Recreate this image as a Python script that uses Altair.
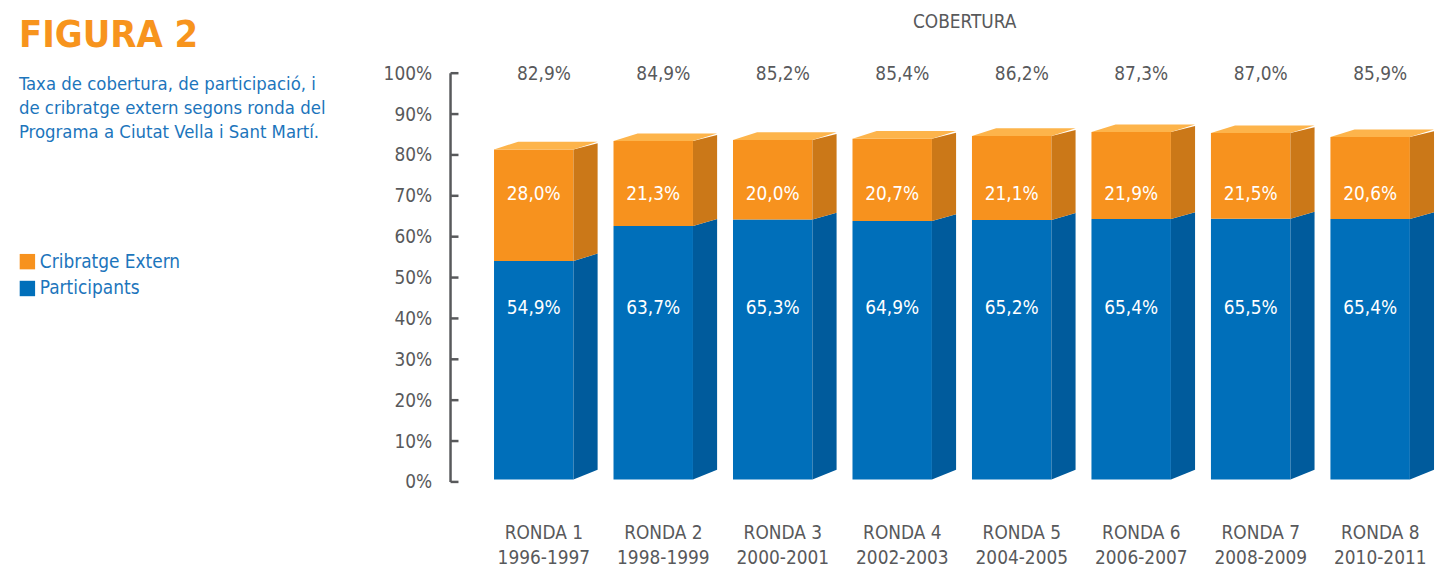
import altair as alt
import pandas as pd

# ---------------- data ----------------
rondes = ["RONDA 1", "RONDA 2", "RONDA 3", "RONDA 4", "RONDA 5", "RONDA 6", "RONDA 7", "RONDA 8"]
periodes = ["1996-1997", "1998-1999", "2000-2001", "2002-2003", "2004-2005", "2006-2007", "2008-2009", "2010-2011"]
participants = [54.9, 63.7, 65.3, 64.9, 65.2, 65.4, 65.5, 65.4]
cribratge = [28.0, 21.3, 20.0, 20.7, 21.1, 21.9, 21.5, 20.6]
cobertura = [82.9, 84.9, 85.2, 85.4, 86.2, 87.3, 87.0, 85.9]
y_ticks = [0, 10, 20, 30, 40, 50, 60, 70, 80, 90, 100]
series = ["Cribratge Extern", "Participants"]

# ---------------- style ----------------
FONT = "Liberation Sans Narrow, DejaVu Sans Condensed, Roboto, sans-serif"
GRAY = "#58595B"
BLUE_TXT = "#1C75BC"
ORANGE = "#F7921E"
BLUE = "#006FBA"
SIDE = {"Cribratge Extern": "#CB7818", "Participants": "#005B9C"}
TOP_COLOR = "#FDB44B"

# pseudo-3D geometry (x in slot units, depth projection in % units)
FRONT_L, FRONT_R, DEPTH = -0.417, 0.248, 0.202


def front(v):
    return 0.6 + 0.974 * v


def back(v):
    return 3.0 + 0.963 * v


def pct(v):
    return f"{v:.1f}%".replace(".", ",")


fronts, sides, tops, inner, totals, cats = [], [], [], [], [], []
for i in range(len(rondes)):
    c = i + 0.5
    xl, xr = c + FRONT_L, c + FRONT_R
    segs = [("Participants", 0.0, participants[i]),
            ("Cribratge Extern", participants[i], participants[i] + cribratge[i])]
    for s, v0, v1 in segs:
        fronts.append({"x": xl, "x2": xr, "y": front(v0), "y2": front(v1), "serie": s})
        key = f"{i}-{s}"
        sides.append({"k": key, "x": xr, "y": front(v0), "y2": front(v1), "c": SIDE[s]})
        sides.append({"k": key, "x": xr + DEPTH, "y": back(v0), "y2": back(v1), "c": SIDE[s]})
    top = participants[i] + cribratge[i]
    fT, bT = front(top), back(top) + 0.4
    for x, y, y2 in [(xl, fT, fT), (xl + DEPTH, fT, bT), (xr, fT, bT), (xr + DEPTH, bT, bT)]:
        tops.append({"k": i, "x": x, "y": y, "y2": y2})
    inner.append({"x": (xl + xr) / 2, "t": pct(participants[i]), "row": "p"})
    inner.append({"x": (xl + xr) / 2, "t": pct(cribratge[i]), "row": "c"})
    totals.append({"x": c, "t": pct(cobertura[i])})
    cats.append({"x": c, "t": rondes[i] + "\n" + periodes[i]})

xscale = alt.Scale(domain=[-0.281, 8.0], nice=False, zero=False)
yscale = alt.Scale(domain=[0, 100], nice=False)
X = lambda f="x": alt.X(f"{f}:Q", scale=xscale, axis=None)

front_layer = alt.Chart(pd.DataFrame(fronts)).mark_rect(stroke=None).encode(
    x=X(), x2="x2:Q",
    y=alt.Y("y:Q", scale=yscale, stack=None,
            axis=alt.Axis(values=y_ticks, labelExpr="datum.value + '%'", domain=False,
                          ticks=False, grid=False, title=None, labelFont=FONT,
                          labelFontSize=19, labelColor=GRAY, labelPadding=19)),
    y2="y2:Q",
    color=alt.Color("serie:N", scale=alt.Scale(domain=series, range=[ORANGE, BLUE]),
                    legend=alt.Legend(title=None, orient="none", legendX=-435, legendY=180,
                                      symbolType="square", symbolSize=240, symbolStrokeWidth=0,
                                      labelFont=FONT, labelFontSize=19, labelColor=BLUE_TXT,
                                      labelOffset=3, rowPadding=7, padding=0)),
)

side_layer = alt.Chart(pd.DataFrame(sides)).mark_area(interpolate="linear").encode(
    x=X(), y=alt.Y("y:Q", scale=yscale, stack=None), y2="y2:Q",
    detail="k:N", fill=alt.Fill("c:N", scale=None),
)

top_layer = alt.Chart(pd.DataFrame(tops)).mark_area(interpolate="linear", color=TOP_COLOR).encode(
    x=X(), y=alt.Y("y:Q", scale=yscale, stack=None), y2="y2:Q", detail="k:N",
)

axis_line = alt.Chart(pd.DataFrame({"y": [0], "y2": [100]})).mark_rule(
    color=GRAY, strokeWidth=2.5).encode(x=alt.value(0), y=alt.Y("y:Q", scale=yscale), y2="y2:Q")

axis_ticks = alt.Chart(pd.DataFrame({"y": y_ticks})).mark_rule(
    color=GRAY, strokeWidth=2.5).encode(x=alt.value(0), x2=alt.value(8), y=alt.Y("y:Q", scale=yscale))

inner_df = pd.DataFrame(inner)
inner_c = alt.Chart(inner_df[inner_df.row == "c"]).mark_text(
    font=FONT, fontSize=19, color="white", baseline="middle").encode(
    x=X(), y=alt.Y(datum=70.5, scale=yscale), text="t:N")
inner_p = alt.Chart(inner_df[inner_df.row == "p"]).mark_text(
    font=FONT, fontSize=19, color="white", baseline="middle").encode(
    x=X(), y=alt.Y(datum=42.5, scale=yscale), text="t:N")

total_txt = alt.Chart(pd.DataFrame(totals)).mark_text(
    font=FONT, fontSize=19, color=GRAY, baseline="middle").encode(
    x=X(), y=alt.Y(datum=99.8, scale=yscale), text="t:N")

cat_txt = alt.Chart(pd.DataFrame(cats)).mark_text(
    font=FONT, fontSize=19, color=GRAY, baseline="middle", lineBreak="\n", lineHeight=26).encode(
    x=X(), y=alt.value(462), text="t:N")

heading = alt.Chart(pd.DataFrame({"t": ["FIGURA 2"]})).mark_text(
    font=FONT, fontSize=38, fontWeight="bold", color="#F7941D", align="left",
    baseline="alphabetic").encode(x=alt.value(-434), y=alt.value(-26), text="t:N")

subtitle = alt.Chart(pd.DataFrame({"t": ["Taxa de  cobertura, de participació, i\nde cribratge extern segons ronda del\nPrograma a Ciutat Vella i Sant Martí."]})).mark_text(
    font=FONT, fontSize=18.5, color=BLUE_TXT, align="left", baseline="alphabetic",
    lineBreak="\n", lineHeight=24).encode(x=alt.value(-434), y=alt.value(17), text="t:N")

cob_title = alt.Chart(pd.DataFrame({"t": ["COBERTURA"]})).mark_text(
    font=FONT, fontSize=19, color=GRAY, baseline="middle").encode(
    x=alt.value(517), y=alt.value(-51), text="t:N")

chart = alt.layer(
    front_layer, side_layer, top_layer, axis_line, axis_ticks,
    inner_c, inner_p, total_txt, cat_txt, heading, subtitle, cob_title,
).properties(
    width=995, height=411, autosize=alt.AutoSizeParams(type="none"),
    padding={"left": 445, "top": 64, "right": 1, "bottom": 84},
).configure_view(stroke=None)

chart.save("out.html", embed_options={"renderer": "svg", "actions": False})
